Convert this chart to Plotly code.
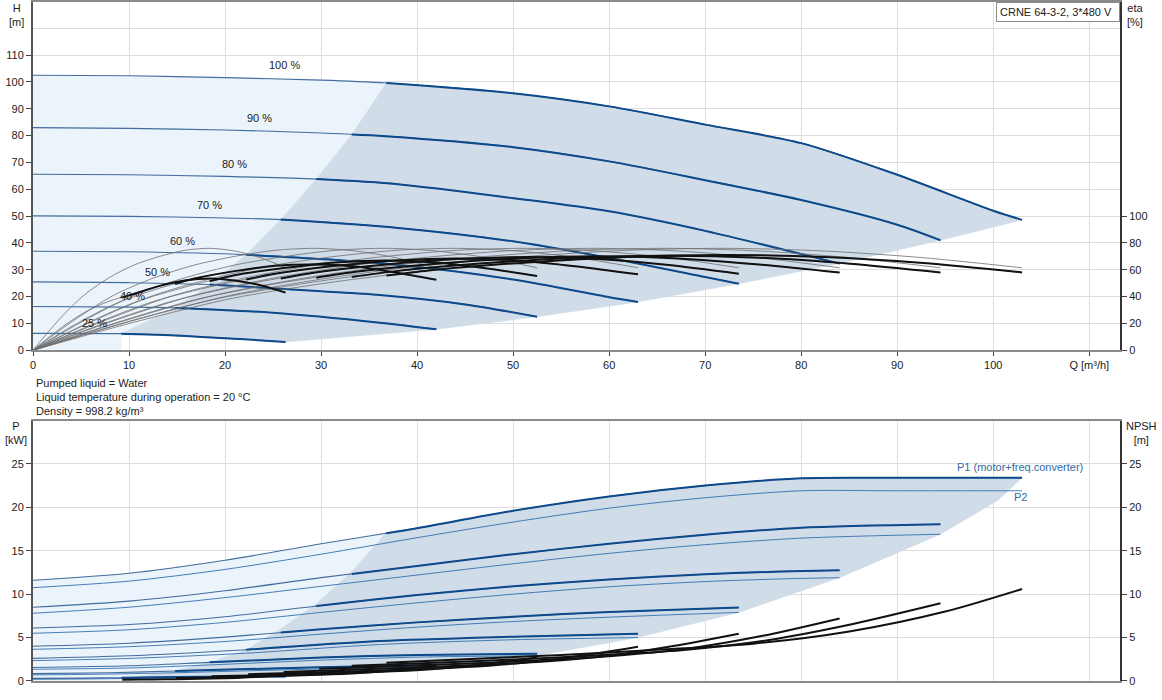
import numpy as np
import plotly.graph_objects as go

# ---------------- data ----------------
speed_labels = ["100 %", "90 %", "80 %", "70 %", "60 %", "50 %", "40 %", "25 %"]
label_q = [26.2, 23.6, 21.0, 18.4, 15.6, 13.0, 10.4, 6.4]
label_h = [106.4, 86.7, 69.6, 54.0, 40.6, 29.1, 20.2, 10.2]
q_start = [36.8, 33.2, 29.5, 25.8, 22.2, 18.4, 14.8, 9.2]
q_max = [103, 94.5, 84, 73.5, 63, 52.5, 42, 26.3]

# head curves H [m]
q_h100 = [0, 10, 20, 30, 36.8, 50, 60, 70, 80, 90, 100, 103]
h_100 = [102.5, 102.3, 101.6, 100.7, 99.6, 95.8, 90.9, 84.1, 77.2, 65.4, 52.0, 48.6]
q_h90 = [0, 10, 20, 30, 36.7, 50, 60, 70, 80, 90, 94.5]
h_90 = [83.0, 82.7, 82.1, 81.0, 79.8, 75.7, 70.4, 63.4, 56.0, 46.8, 41.0]
q_h80 = [0, 10, 20, 29.5, 38, 50, 60, 70, 84]
h_80 = [65.6, 65.4, 64.8, 63.8, 61.9, 56.7, 51.8, 44.5, 32.3]
q_h70 = [0, 10, 20, 25.8, 38, 50, 60, 70, 73.5]
h_70 = [50.1, 49.9, 49.3, 48.7, 45.6, 40.6, 34.4, 27.3, 24.8]
q_h60 = [0, 10, 22.2, 37, 50, 60, 63]
h_60 = [36.9, 36.7, 35.6, 32.2, 26.4, 19.8, 18.0]
q_h50 = [0, 10, 18.4, 30, 36.1, 45, 52.5]
h_50 = [25.5, 25.2, 24.5, 22.0, 20.6, 17.1, 12.5]
q_h40 = [0, 10, 14.8, 25, 36.1, 42]
h_40 = [16.3, 16.1, 15.8, 14.0, 10.3, 7.8]
q_h25 = [0, 9.2, 13, 18, 22, 26.3]
h_25 = [6.3, 6.2, 5.8, 4.9, 4.1, 3.1]

# flow grids for efficiency curves (per speed)
q_e100 = [0, 10.3, 20.6, 30.9, 41.2, 51.5, 61.8, 72.1, 82.4, 92.7, 103]
q_e90 = [0, 9.5, 18.9, 28.4, 37.8, 47.3, 56.7, 66.2, 75.6, 85.1, 94.5]
q_e80 = [0, 8.4, 16.8, 25.2, 33.6, 42, 50.4, 58.8, 67.2, 75.6, 84]
q_e70 = [0, 7.4, 14.7, 22.1, 29.4, 36.8, 44.1, 51.5, 58.8, 66.2, 73.5]
q_e60 = [0, 6.3, 12.6, 18.9, 25.2, 31.5, 37.8, 44.1, 50.4, 56.7, 63]
q_e50 = [0, 5.3, 10.5, 15.8, 21, 26.3, 31.5, 36.8, 42, 47.3, 52.5]
q_e40 = [0, 4.2, 8.4, 12.6, 16.8, 21, 25.2, 29.4, 33.6, 37.8, 42]
q_e25 = [0, 2.6, 5.3, 7.9, 10.5, 13.2, 15.8, 18.4, 21, 23.7, 26.3]

# pump efficiency (thin grey) - same values at every speed
eta_thin = [0, 22, 41, 54, 63.5, 70, 74.5, 76, 74, 69, 61.5]
# total efficiency (thick black) per speed
eta_100 = [0, 20.5, 38.5, 50.5, 59.5, 65.5, 69.5, 71, 69.5, 65, 58]
eta_90 = [0, 20.5, 38, 50, 59, 65, 69, 70.5, 69, 64.5, 58]
eta_80 = [0, 20, 37.5, 49.5, 58.5, 64.5, 68.5, 70, 68.5, 64, 58]
eta_70 = [0, 20, 37, 49, 58, 64, 68, 69.5, 68, 63.5, 57]
eta_60 = [0, 19.5, 36.5, 48, 57, 63, 67, 68.5, 67, 62.5, 56.6]
eta_50 = [0, 19, 35.5, 47, 56, 61.5, 65.5, 67, 65.5, 61, 55.4]
eta_40 = [0, 18.5, 34, 45, 53.5, 59, 63, 64, 62.5, 58, 52.5]
eta_25 = [0, 15, 28, 36.5, 42, 48, 52, 53.5, 52, 48.5, 43]

# power curves P1 (motor+converter) and P2 [kW]
q_p100 = [0, 10, 20, 30, 40, 50, 60, 70, 80, 90, 103]
p1_100 = [11.6, 12.4, 13.9, 15.8, 17.6, 19.6, 21.25, 22.5, 23.35, 23.4, 23.4]
p2_100 = [10.75, 11.5, 12.85, 14.6, 16.5, 18.3, 19.9, 21.1, 21.9, 21.9, 21.9]
q_p90 = [0, 10, 20, 30, 40, 50, 60, 70, 80, 94.5]
p1_90 = [8.5, 9.2, 10.4, 11.9, 13.25, 14.6, 15.8, 16.85, 17.65, 18.05]
p2_90 = [7.8, 8.5, 9.6, 10.9, 12.2, 13.5, 14.7, 15.7, 16.45, 16.9]
q_p80 = [0, 10, 20, 30, 40, 50, 60, 70, 77.8, 84]
p1_80 = [6.1, 6.5, 7.4, 8.7, 9.9, 10.9, 11.7, 12.3, 12.6, 12.75]
p2_80 = [5.5, 5.9, 6.75, 7.9, 9.0, 10.0, 10.85, 11.45, 11.75, 11.9]
q_p70 = [0, 10, 20, 30, 40, 50, 60, 73.5]
p1_70 = [4.0, 4.35, 5.05, 5.95, 6.75, 7.4, 7.95, 8.45]
p2_70 = [3.65, 3.95, 4.55, 5.4, 6.2, 6.85, 7.35, 7.9]
q_p60 = [0, 10, 22.2, 36.1, 50, 63]
p1_60 = [2.6, 2.9, 3.6, 4.6, 5.1, 5.45]
p2_60 = [2.35, 2.6, 3.2, 4.2, 4.75, 5.0]
q_p50 = [0, 10, 18.4, 30, 40, 52.5]
p1_50 = [1.55, 1.75, 2.15, 2.7, 3.0, 3.15]
p2_50 = [1.35, 1.5, 1.85, 2.4, 2.75, 2.9]
q_p40 = [0, 8, 14.8, 25, 35, 42]
p1_40 = [0.85, 0.95, 1.15, 1.45, 1.7, 1.8]
p2_40 = [0.7, 0.8, 0.95, 1.25, 1.5, 1.6]
q_p25 = [0, 5, 9.2, 15, 21, 26.3]
p1_25 = [0.3, 0.33, 0.38, 0.45, 0.52, 0.56]
p2_25 = [0.2, 0.23, 0.28, 0.35, 0.42, 0.45]

# NPSH curves [m]
q_n100 = [36.8, 45, 55, 65, 75, 85, 95, 103]
npsh_100 = [2.1, 2.5, 3.0, 3.6, 4.3, 5.7, 8.0, 10.6]
q_n90 = [33.2, 40.5, 49.5, 58.5, 67.5, 76.5, 85.5, 94.5]
npsh_90 = [1.75, 2.05, 2.45, 2.95, 3.55, 4.7, 6.6, 8.95]
q_n80 = [29.8, 36, 44, 52, 60, 68, 76, 84]
npsh_80 = [1.4, 1.65, 1.95, 2.35, 2.85, 3.7, 5.2, 7.2]
q_n70 = [26.1, 31.5, 38.5, 45.5, 52.5, 59.5, 66.5, 73.5]
npsh_70 = [1.05, 1.25, 1.5, 1.8, 2.2, 2.85, 4.0, 5.45]
q_n60 = [22.4, 27, 33, 39, 45, 51, 57, 63]
npsh_60 = [0.78, 0.92, 1.1, 1.32, 1.6, 2.1, 2.9, 3.95]
q_n50 = [18.6, 22.5, 27.5, 32.5, 37.5, 42.5, 47.5, 52.5]
npsh_50 = [0.55, 0.64, 0.77, 0.92, 1.12, 1.45, 2.0, 2.7]
q_n40 = [14.9, 18, 22, 26, 30, 34, 38, 42]
npsh_40 = [0.35, 0.41, 0.49, 0.59, 0.72, 0.93, 1.28, 1.75]
q_n25 = [9.3, 11.2, 13.7, 16.2, 18.7, 21.2, 23.7, 26.3]
npsh_25 = [0.13, 0.16, 0.19, 0.23, 0.28, 0.36, 0.5, 0.68]

# operating range boundaries
edge_h = [48.6, 41.0, 32.3, 24.8, 18.0, 12.5, 7.8, 3.1]          # H at q_max
left_h = [99.6, 80.4, 63.8, 48.7, 35.6, 24.5, 15.8, 6.2]         # H at q_start
q_pedge = [103, 100.5, 94.5, 84, 73.5, 63, 52.5, 42, 26.3]
p_edge = [23.4, 20.8, 16.9, 11.9, 7.9, 5.0, 2.9, 1.6, 0.45]     # lower edge in power plot
left_p = [17.1, 12.6, 8.9, 6.0, 3.6, 2.15, 1.15, 0.38]           # P1 at q_start

liquid_text = ["Pumped liquid = Water",
               "Liquid temperature during operation = 20 °C",
               "Density = 998.2 kg/m³"]
title_text = "CRNE 64-3-2, 3*480 V"

# ---------------- styling ----------------
BLUE = "#0D4A8B"
BLUE_THIN = "rgba(25,75,135,0.8)"
P2_COL = "#3370AE"
GREY = "#6E6E6E"
FILL_LIGHT = "#EBF3FB"
FILL_DARK = "#D0DCE8"
FONT = "Liberation Sans, Arial, sans-serif"

H_q = [q_h100, q_h90, q_h80, q_h70, q_h60, q_h50, q_h40, q_h25]
H_v = [h_100, h_90, h_80, h_70, h_60, h_50, h_40, h_25]
E_q = [q_e100, q_e90, q_e80, q_e70, q_e60, q_e50, q_e40, q_e25]
E_v = [eta_100, eta_90, eta_80, eta_70, eta_60, eta_50, eta_40, eta_25]
P_q = [q_p100, q_p90, q_p80, q_p70, q_p60, q_p50, q_p40, q_p25]
P1_v = [p1_100, p1_90, p1_80, p1_70, p1_60, p1_50, p1_40, p1_25]
P2_v = [p2_100, p2_90, p2_80, p2_70, p2_60, p2_50, p2_40, p2_25]
N_q = [q_n100, q_n90, q_n80, q_n70, q_n60, q_n50, q_n40, q_n25]
N_v = [npsh_100, npsh_90, npsh_80, npsh_70, npsh_60, npsh_50, npsh_40, npsh_25]


def from_start(q, v, q0):
    q = np.asarray(q, float)
    v = np.asarray(v, float)
    m = q > q0
    return np.r_[q0, q[m]], np.r_[np.interp(q0, q, v), v[m]]


def upto(q, v, q0):
    q = np.asarray(q, float)
    v = np.asarray(v, float)
    m = q < q0
    return np.r_[q[m], q0], np.r_[v[m], np.interp(q0, q, v)]


fig = go.Figure()


def line(x, y, color, width, xa="x", ya="y", shape="spline"):
    fig.add_trace(go.Scatter(x=list(x), y=list(y), mode="lines", xaxis=xa, yaxis=ya,
                             line=dict(color=color, width=width, shape=shape, smoothing=0.8),
                             hoverinfo="skip", showlegend=False))


def poly(x, y, color, xa="x", ya="y"):
    fig.add_trace(go.Scatter(x=list(x), y=list(y), mode="lines", fill="toself", fillcolor=color,
                             line=dict(width=0.5, color=color), xaxis=xa, yaxis=ya,
                             hoverinfo="skip", showlegend=False))


# ---- top: regions ----
qa, ha = upto(q_h100, h_100, q_start[0])
lx = [0] + list(qa) + q_start[1:] + [q_start[-1], 0]
ly = [0] + list(ha) + left_h[1:] + [0, 0]
poly(lx, ly, FILL_LIGHT)
qb, hb = from_start(q_h100, h_100, q_start[0])
q25b, h25b = from_start(q_h25, h_25, q_start[-1])
dx = list(qb) + q_max[1:] + list(q25b[::-1]) + q_start[::-1][1:]
dy = list(hb) + edge_h[1:] + list(h25b[::-1]) + left_h[::-1][1:]
poly(dx, dy, FILL_DARK)

# ---- bottom: regions ----
qa, pa = upto(q_p100, p1_100, q_start[0])
lx = [0] + list(qa) + q_start[1:] + [q_start[-1], 0]
ly = [0] + list(pa) + left_p[1:] + [0, 0]
poly(lx, ly, FILL_LIGHT, "x2", "y3")
qb, pb = from_start(q_p100, p1_100, q_start[0])
q25b, p25b = from_start(q_p25, p2_25, q_start[-1])
dx = list(qb) + q_pedge[1:] + list(q25b[::-1]) + q_start[::-1][1:]
dy = list(pb) + p_edge[1:] + list(p25b[::-1]) + left_p[::-1][1:]
poly(dx, dy, FILL_DARK, "x2", "y3")

# ---- efficiency curves ----
for i in range(8):
    line(E_q[i], eta_thin, GREY, 0.8, ya="y2")
    line(E_q[i], E_v[i], GREY, 0.8, ya="y2")
for i in range(8):
    qq, vv = from_start(E_q[i], E_v[i], q_start[i])
    line(qq, vv, "#111111", 2, ya="y2")

# ---- head curves ----
for i in range(8):
    line(H_q[i], H_v[i], BLUE_THIN, 1.1)
    qq, vv = from_start(H_q[i], H_v[i], q_start[i])
    line(qq, vv, BLUE, 2)

# ---- power + NPSH ----
for i in range(8):
    line(P_q[i], P2_v[i], P2_COL, 0.9, "x2", "y3")
    line(P_q[i], P1_v[i], BLUE_THIN, 1.1, "x2", "y3")
    qq, vv = from_start(P_q[i], P1_v[i], q_start[i])
    line(qq, vv, BLUE, 2, "x2", "y3")
for i in range(8):
    line(N_q[i], N_v[i], "#111111", 2, "x2", "y4")

# ---------------- layout ----------------
W, H = 1162, 700
L, R, T, B = 33, 42, 0, 19
PW, PH = W - L - R, H - T - B


def px(xp):
    return (xp - L) / PW


def py(yp):
    return (H - B - yp) / PH


top_dom = [py(349.3), 1.0]
bot_dom = [0.0, py(420)]
h_top = 349.3 / 2.691
p_top = (681 - 420) / 8.71
xr = [0, (1120 - 33.3) / 9.6]

tick_font = dict(family=FONT, size=11, color="#222")
xt = list(range(0, 111, 10))
xtt = [str(v) for v in xt[:-1]] + ["Q [m³/h]"]

fig.update_layout(
    width=W, height=H, margin=dict(l=L, r=R, t=T, b=B),
    paper_bgcolor="white", plot_bgcolor="white", showlegend=False,
    font=dict(family=FONT, size=11, color="#222"),
    xaxis=dict(domain=[0, 1], anchor="y", range=xr, tickvals=xt, ticktext=xtt,
               ticks="outside", ticklen=4, tickcolor="#444", tickfont=tick_font,
               showgrid=True, gridcolor="#DEDEDE", gridwidth=1, zeroline=False,
               showline=True, linecolor="#8A8A8A", linewidth=2, mirror=True),
    yaxis=dict(domain=top_dom, anchor="x", range=[0, h_top], tickvals=list(range(0, 111, 10)),
               ticks="outside", ticklen=5, tickcolor="#444", tickfont=tick_font,
               showgrid=True, gridcolor="#DEDEDE", zeroline=False,
               minor=dict(dtick=10, tick0=0, showgrid=True, gridcolor="#DEDEDE", ticks=""),
               showline=True, linecolor="#555", linewidth=2),
    yaxis2=dict(overlaying="y", side="right", anchor="x", range=[0, 2 * h_top],
                tickvals=list(range(0, 101, 20)), ticks="outside", ticklen=5, tickcolor="#444",
                tickfont=tick_font, showgrid=False, zeroline=False,
                showline=True, linecolor="#333", linewidth=2),
    xaxis2=dict(domain=[0, 1], anchor="y3", range=xr, tickvals=xt, showticklabels=False,
                ticks="", showgrid=True, gridcolor="#DEDEDE", zeroline=False,
                showline=True, linecolor="#8A8A8A", linewidth=2, mirror=True),
    yaxis3=dict(domain=bot_dom, anchor="x2", range=[0, p_top], tickvals=list(range(0, 26, 5)),
                ticks="outside", ticklen=5, tickcolor="#444", tickfont=tick_font,
                showgrid=True, gridcolor="#DEDEDE", zeroline=False,
                showline=True, linecolor="#555", linewidth=2),
    yaxis4=dict(overlaying="y3", side="right", anchor="x2", range=[0, p_top],
                tickvals=list(range(0, 26, 5)), ticks="outside", ticklen=5, tickcolor="#444",
                tickfont=tick_font, showgrid=False, zeroline=False,
                showline=True, linecolor="#333", linewidth=2),
)

ann = []
for lab, q, h in zip(speed_labels, label_q, label_h):
    ann.append(dict(x=q, y=h, xref="x", yref="y", text=lab, showarrow=False,
                    font=dict(size=11, color="#222")))


def paper_text(text, xp, yp, xanchor="center", color="#222"):
    ann.append(dict(x=px(xp), y=py(yp), xref="paper", yref="paper", text=text,
                    showarrow=False, xanchor=xanchor, yanchor="middle", align="center",
                    font=dict(size=11, color=color)))


paper_text("H<br>[m]", 16, 13)
paper_text("eta<br>[%]", 1135, 13)
paper_text("P<br>[kW]", 16, 432)
paper_text("NPSH<br>[m]", 1141, 432)
for k, t in enumerate(liquid_text):
    paper_text(t, 34, 382 + 14 * k, xanchor="left")

ann.append(dict(x=96.0, y=24.6, xref="x2", yref="y3", text="P1 (motor+freq.converter)",
                showarrow=False, xanchor="left", font=dict(size=11, color="#2F6AA5")))
ann.append(dict(x=102.8, y=21.2, xref="x2", yref="y3", text="P2",
                showarrow=False, xanchor="center", font=dict(size=11, color="#2F6AA5")))
ann.append(dict(x=1.0, y=1.0, xref="paper", yref="paper", text=title_text,
                showarrow=False, xanchor="right", yanchor="top", align="left", width=116,
                bgcolor="white", bordercolor="#8A8A8A", borderwidth=1, borderpad=3,
                font=dict(size=11, color="#222")))
fig.update_layout(annotations=ann)

fig.write_html("out.html")
